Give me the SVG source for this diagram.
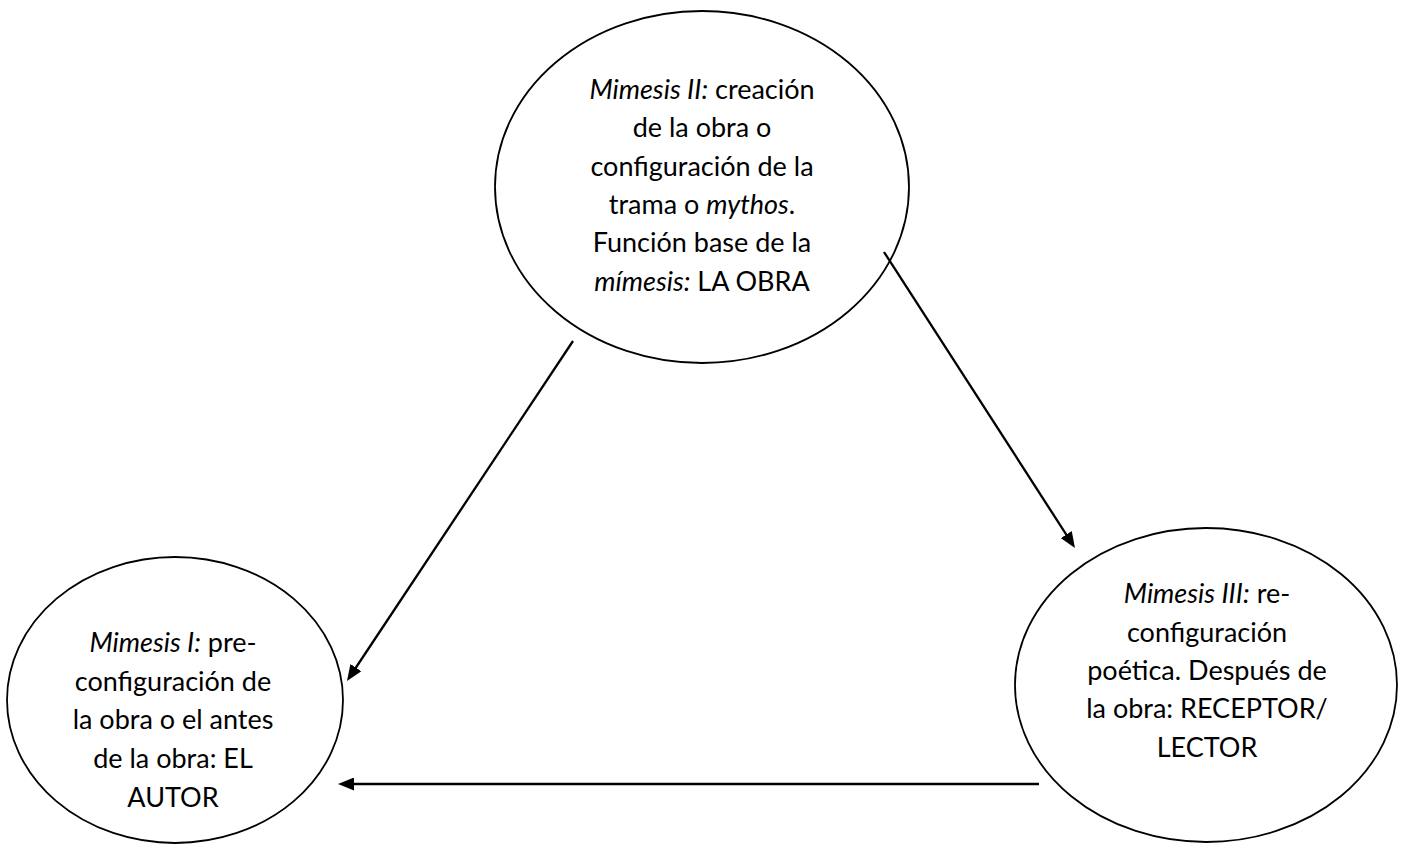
<svg xmlns="http://www.w3.org/2000/svg" width="1401" height="846" viewBox="0 0 1401 846">
<style>
.node ellipse { fill: #ffffff; stroke: #000000; stroke-width: 1.8; }
.node text { font-family: Lato, "Liberation Sans", sans-serif; font-size: 27px; fill: #000000; text-anchor: middle; }
.it { font-style: italic; }
.edge { stroke: #000000; stroke-width: 2.3; fill: none; marker-end: url(#arrow); }
</style>
<defs>
<marker id="arrow" markerUnits="userSpaceOnUse" markerWidth="16" markerHeight="13" refX="10" refY="6.5" orient="auto">
<path d="M0,0 L16,6.5 L0,13 z" fill="#000000"/>
</marker>
</defs>
<rect x="0" y="0" width="1401" height="846" fill="#ffffff"/>
<g id="mimesis2" class="node">
<ellipse cx="702" cy="187" rx="207" ry="176"/>
<text x="702" y="99"><tspan class="it">Mimesis II:</tspan> creación</text>
<text x="702" y="137">de la obra o</text>
<text x="702" y="176">configuración de la</text>
<text x="702" y="214">trama o <tspan class="it">mythos</tspan>.</text>
<text x="702" y="252">Función base de la</text>
<text x="702" y="291"><tspan class="it">mímesis:</tspan> LA OBRA</text>
</g>
<g id="mimesis1" class="node">
<ellipse cx="175" cy="700" rx="168" ry="143"/>
<text x="173" y="652"><tspan class="it">Mimesis I:</tspan> pre-</text>
<text x="173" y="691">configuración de</text>
<text x="173" y="729">la obra o el antes</text>
<text x="173" y="768">de la obra: EL</text>
<text x="173" y="807">AUTOR</text>
</g>
<g id="mimesis3" class="node">
<ellipse cx="1206" cy="685" rx="191" ry="157"/>
<text x="1207" y="603"><tspan class="it">Mimesis III:</tspan> re-</text>
<text x="1207" y="642">configuración</text>
<text x="1207" y="680">poética. Después de</text>
<text x="1207" y="718">la obra: RECEPTOR/</text>
<text x="1207" y="757">LECTOR</text>
</g>
<g id="connectors">
<line class="edge" x1="573" y1="341" x2="350.3" y2="676"/>
<line class="edge" x1="884" y1="252" x2="1071.7" y2="543"/>
<line class="edge" x1="1039" y1="784" x2="344" y2="784"/>
</g>
</svg>
